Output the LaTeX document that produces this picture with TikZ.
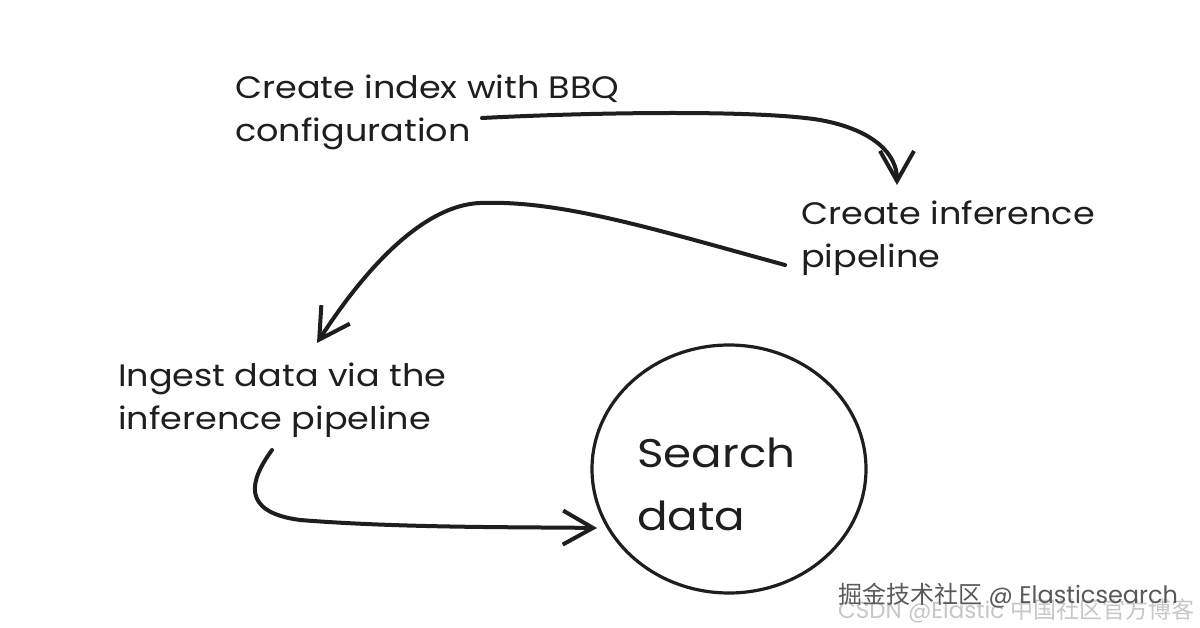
\documentclass[tikz,border=0pt]{standalone}
\usepackage{fontspec}
\setmainfont{Poppins}
\newfontfamily\hand[FakeStretch=1.13]{Poppins}
\newfontfamily\cjk{Noto Sans CJK SC}
\usetikzlibrary{arrows.meta,shapes.geometric}
\definecolor{ink}{HTML}{1E1E1E}
\begin{document}
\begin{tikzpicture}[x=1pt,y=-1pt,
  lbl/.style={anchor=base west,align=left,inner sep=0pt,text=ink,font=\hand\fontsize{31}{43}\selectfont},
  big/.style={anchor=base west,align=left,inner sep=0pt,text=ink,font=\hand\fontsize{40}{63}\selectfont},
  arr/.style={draw=ink,line width=4pt,line cap=round,line join=round,
    -{Straight Barb[length=30pt,width=34pt,line width=4pt]}},
  wm/.style={anchor=base west,inner sep=0pt}]
\useasboundingbox[fill=white] (0,0) rectangle (1200,628);
\node[lbl] (t1) at (235,142) {Create index with BBQ\\configuration};
\node[lbl] (t2) at (801,268) {Create inference\\pipeline};
\node[lbl] (t3) at (118,429) {Ingest data via the\\inference pipeline};
\node[draw=ink,line width=3.2pt,ellipse,minimum width=274pt,minimum height=248pt,inner sep=0pt] (c) at (729,469) {};
\node[big] (t4) at (637,530) {Search\\data};
\coordinate (a1s) at (482,118);
\coordinate (a1e) at (897,185);
\coordinate (a2s) at (785,265);
\coordinate (a2e) at (317,343);
\coordinate (a3s) at (272,450);
\coordinate (a3e) at (597,528);
\draw[arr] (a1s) .. controls (600,112) and (760,110) .. (820,120) .. controls (875,130) and (897,155) .. (a1e);
\draw[arr] (a2s) .. controls (650,228) and (560,200) .. (480,203) .. controls (410,206) and (345,300) .. (a2e);
\draw[arr] (a3s) .. controls (250,480) and (240,512) .. (300,520) .. controls (400,528) and (520,527) .. (a3e);
\node[wm,text=black!22,font=\fontsize{23}{26}\selectfont] (w2) at (838,618) {CSDN @Elastic {\cjk 中国社区官方博客}};
\node[wm,text=black!65,font=\fontsize{24}{26}\selectfont] (w1) at (838,603) {{\cjk 掘金技术社区} @ Elasticsearch};
\end{tikzpicture}
\end{document}
